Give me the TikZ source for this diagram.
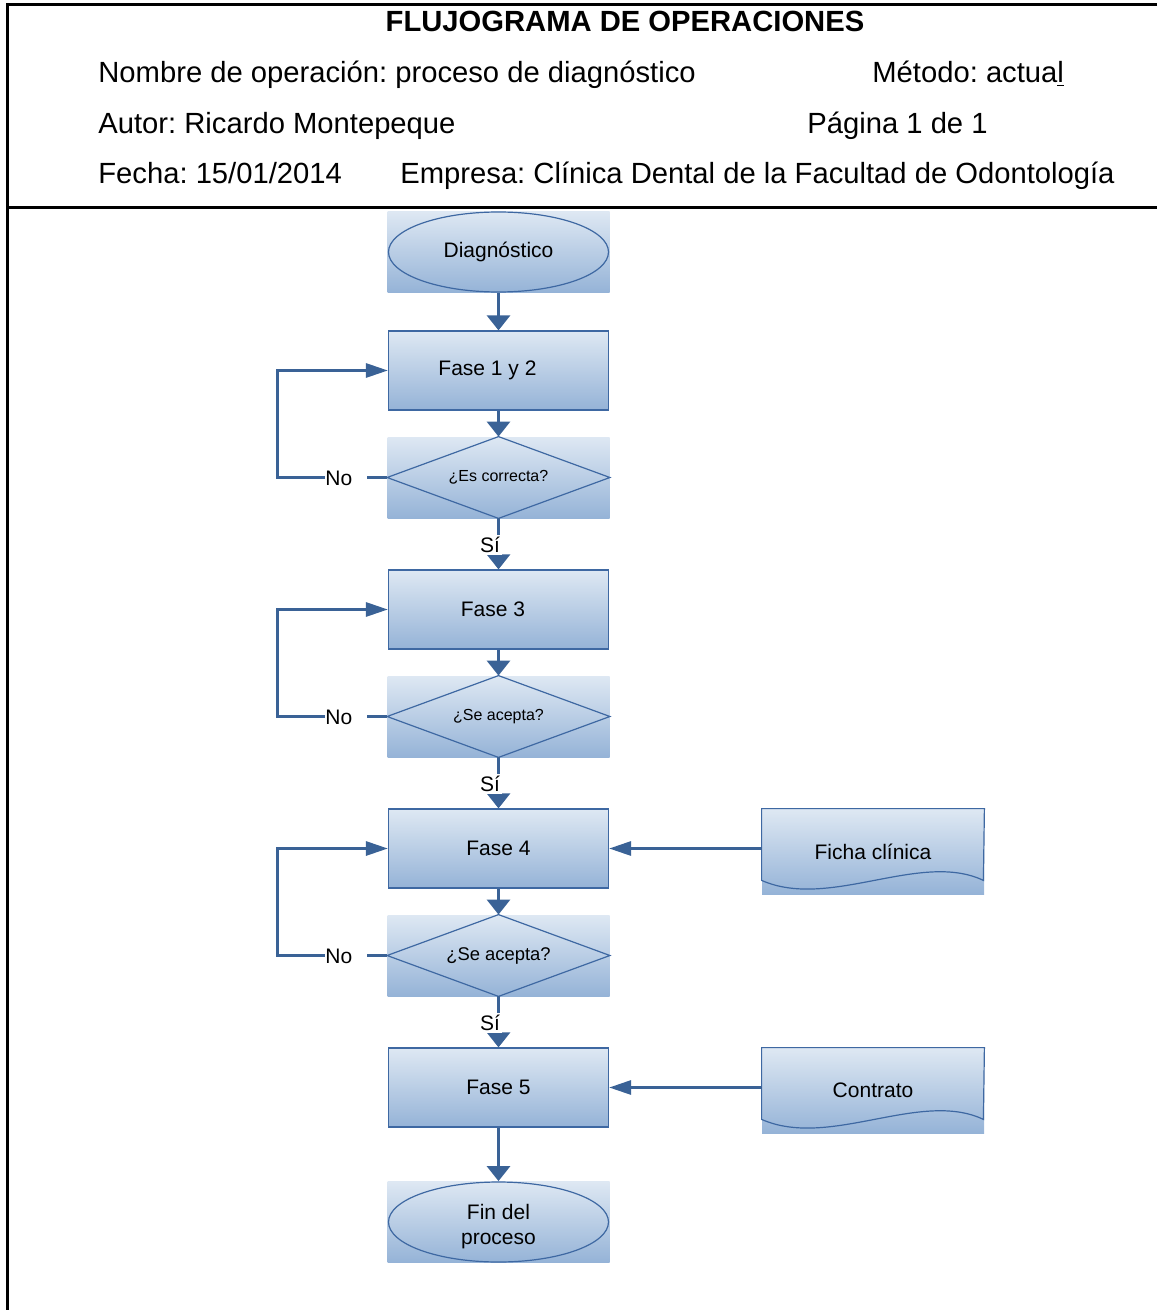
\documentclass[tikz,border=0pt]{standalone}
\usepackage{fontspec}
\setmainfont{Liberation Sans}
\usetikzlibrary{arrows.meta,calc}
\frenchspacing

\definecolor{gtop}{RGB}{222,232,243}
\definecolor{gbot}{RGB}{149,179,215}
\definecolor{edgec}{RGB}{62,104,162}
\definecolor{flowc}{RGB}{58,98,150}

\tikzset{
  grad/.style={shading=axis, top color=gtop, bottom color=gbot},
  procbox/.style={rectangle, grad, draw=edgec, line width=0.6pt,
    minimum width=110pt, minimum height=39.5pt, inner sep=0pt,
    font=\fontsize{10.5}{12.5}\selectfont},
  bgbox/.style={rectangle, grad, minimum width=111pt, minimum height=40.5pt,
    inner sep=0pt, align=center, font=\fontsize{10.5}{12.5}\selectfont},
  docbox/.style={rectangle, grad, minimum width=111pt, minimum height=42.5pt,
    inner sep=0pt, font=\fontsize{10.5}{12.5}\selectfont},
  outline/.style={draw=edgec, line width=0.6pt},
  conn/.style={draw=flowc, line width=1.5pt},
  varrow/.style={conn, -{Triangle[length=7.5pt,width=11.5pt]}},
  harrow/.style={conn, -{Triangle[length=11pt,width=7pt]}},
  silbl/.style={fill=white, inner sep=1pt, font=\fontsize{10.5}{12.5}\selectfont},
  nolbl/.style={fill=white, anchor=west, text width=21pt, inner xsep=0pt,
    inner ysep=1pt, align=left, font=\fontsize{10.5}{12.5}\selectfont},
  hdr/.style={anchor=base west, inner sep=0pt, font=\fontsize{14.6}{17}\selectfont}
}

\begin{document}
\begin{tikzpicture}[x=0.5pt,y=-0.5pt]
\useasboundingbox (0,0) rectangle (1157,1310);

% frame of the sheet
\draw[line width=1.5pt] (1157,5) -- (7,5) -- (7,1310);
\draw[line width=1.5pt] (7,208) -- (1157,208);

% header
\node[anchor=base, inner sep=0pt, font=\bfseries\fontsize{14.6}{17}\selectfont] (title) at (625,32) {FLUJOGRAMA DE OPERACIONES};
\node[hdr] (nombre) at (98,83) {Nombre de operación: proceso de diagnóstico};
\node[hdr] (metodo) at (872,83) {Método: actua\underline{l}};
\node[hdr] (autor) at (98,134) {Autor: Ricardo Montepeque};
\node[hdr] (pagina) at (807,134) {Página 1 de 1};
\node[hdr] (fecha) at (98,184) {Fecha: 15/01/2014};
\node[hdr] (empresa) at (400,184) {Empresa: Clínica Dental de la Facultad de Odontología};

% flow nodes
\node[bgbox] (dg) at (498.5,252) {Diagnóstico};
\draw[outline] (dg.center) ellipse [x radius=110, y radius=40];

\node[procbox] (f12) at (498.5,370.5) {\hspace*{-11pt}Fase 1 y 2};

\node[bgbox, font=\fontsize{8}{10}\selectfont] (d1) at (498.5,477.5) {¿Es correcta?};
\draw[outline] (d1.north) -- (d1.east) -- (d1.south) -- (d1.west) -- cycle;

\node[procbox] (f3) at (498.5,609.5) {\hspace*{-5.5pt}Fase 3};

\node[bgbox, font=\fontsize{8}{10}\selectfont] (d2) at (498.5,716.5) {¿Se acepta?};
\draw[outline] (d2.north) -- (d2.east) -- (d2.south) -- (d2.west) -- cycle;

\node[procbox] (f4) at (498.5,848.5) {Fase 4};

\node[bgbox, font=\fontsize{9.2}{11}\selectfont] (d3) at (498.5,955.5) {¿Se acepta?};
\draw[outline] (d3.north) -- (d3.east) -- (d3.south) -- (d3.west) -- cycle;

\node[procbox] (f5) at (498.5,1087.5) {Fase 5};

\node[bgbox] (fin) at (498.5,1222) {\rule{0pt}{12pt}Fin del\\proceso};
\draw[outline] (fin.center) ellipse [x radius=110, y radius=40];

% documents
\node[docbox] (ficha) at (873,851.5) {Ficha clínica};
\draw[outline] (ficha.north west) -- (ficha.north east) -- ($(ficha.south east)+(-1,-14)$)
  .. controls ($(ficha.south east)+(-64,-44)$) and ($(ficha.south west)+(68,16)$) .. ($(ficha.south west)+(0,-14)$) -- cycle;

\node[docbox] (contrato) at (873,1090.5) {Contrato};
\draw[outline] (contrato.north west) -- (contrato.north east) -- ($(contrato.south east)+(-1,-14)$)
  .. controls ($(contrato.south east)+(-64,-44)$) and ($(contrato.south west)+(68,16)$) .. ($(contrato.south west)+(0,-14)$) -- cycle;

% main flow
\draw[varrow] (dg.south) -- (f12.north);
\draw[varrow] (f12.south) -- (d1.north);
\draw[varrow] (d1.south) -- (f3.north);
\draw[varrow] (f3.south) -- (d2.north);
\draw[varrow] (d2.south) -- (f4.north);
\draw[varrow] (f4.south) -- (d3.north);
\draw[varrow] (d3.south) -- (f5.north);
\draw[varrow] (f5.south) -- (fin.north);

% rejection loops
\draw[harrow] (d1.west) -- ++(-110,0) |- (f12.west);
\draw[harrow] (d2.west) -- ++(-110,0) |- (f3.west);
\draw[harrow] (d3.west) -- ++(-110,0) |- (f4.west);

% documents feeding the phases
\draw[harrow] (ficha.west |- f4.east) -- (f4.east);
\draw[harrow] (contrato.west |- f5.east) -- (f5.east);

% branch labels
\node[silbl] (si1) at (490,545) {Sí};
\node[silbl] (si2) at (490,784) {Sí};
\node[silbl] (si3) at (490,1023) {Sí};
\node[nolbl] (no1) at (325,478) {No};
\node[nolbl] (no2) at (325,717) {No};
\node[nolbl] (no3) at (325,956) {No};
\end{tikzpicture}
\end{document}
